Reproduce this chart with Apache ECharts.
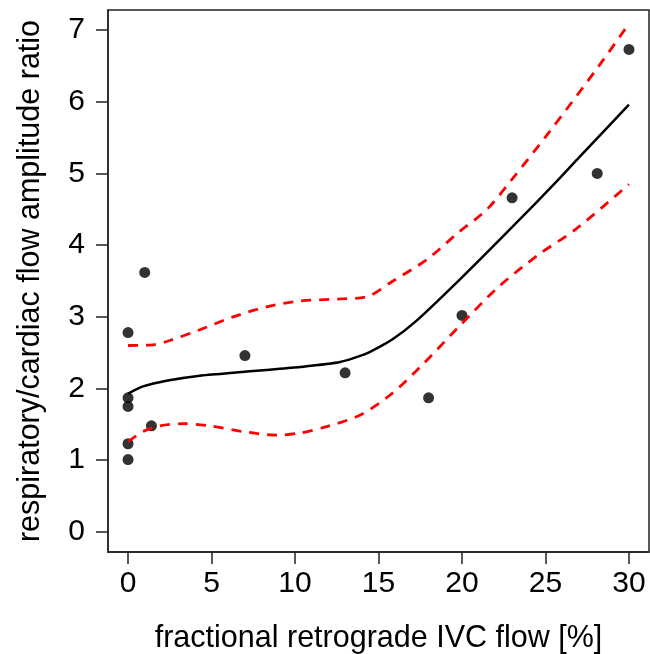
<!DOCTYPE html>
<html>
<head>
<meta charset="utf-8">
<script src="https://cdn.jsdelivr.net/npm/echarts@6/dist/echarts.min.js"></script>
<style>
  html, body { margin: 0; padding: 0; background: #fff; }
  #main { width: 650px; height: 654px; }
</style>
</head>
<body>
<div id="main"></div>
<script>
// measured points
var ptX = [0, 1.0, 0, 0, 1.4, 0, 0, 7.0, 13.0, 18.0, 20.0, 23.0, 28.1, 30.0];
var ptY = [2.78, 3.62, 1.87, 1.75, 1.48, 1.23, 1.01, 2.46, 2.22, 1.87, 3.02, 4.66, 5.0, 6.73];

// fitted curve
var fitX = [0, 0.9, 2.3, 4.3, 6.3, 8.3, 10.3, 12.7, 14.3, 15.8, 17.3, 20.0, 23.0, 25.8, 27.0, 30.0];
var fitY = [1.93, 2.03, 2.11, 2.18, 2.22, 2.26, 2.30, 2.37, 2.49, 2.68, 2.95, 3.55, 4.25, 4.92, 5.22, 5.96];

// upper band
var upX = [0, 1.5, 2.5, 4.3, 6.3, 8.3, 10.3, 12.7, 14.3, 15.8, 17.9, 19.8, 21.5, 23.0, 25.2, 28.2, 30.0];
var upY = [2.60, 2.61, 2.67, 2.82, 3.00, 3.14, 3.22, 3.25, 3.28, 3.49, 3.80, 4.18, 4.50, 4.92, 5.57, 6.50, 7.09];

// lower band
var loX = [0, 0.9, 1.9, 3.3, 4.9, 6.9, 8.9, 10.3, 11.9, 13.9, 15.7, 17.5, 19.8, 22.2, 24.6, 26.8, 30.0];
var loY = [1.26, 1.40, 1.48, 1.51, 1.48, 1.40, 1.35, 1.38, 1.47, 1.63, 1.91, 2.30, 2.86, 3.42, 3.87, 4.22, 4.85];

var xTicks = [0, 5, 10, 15, 20, 25, 30];
var yTicks = [0, 1, 2, 3, 4, 5, 6, 7];

function pairs(xs, ys) {
    var out = [];
    for (var i = 0; i < xs.length; i++) out.push([xs[i], ys[i]]);
    return out;
}

var myChart = echarts.init(document.getElementById('main'));
var font = '"Liberation Sans", Arial, sans-serif';
var ink = '#222';

var option = {
    animation: false,
    grid: {
        left: 108, right: 1, top: 10, bottom: 102,
        outerBoundsMode: 'none',
        show: true, borderColor: ink, borderWidth: 1.5
    },
    xAxis: {
        type: 'value',
        min: -1.2, max: 31.2,
        name: 'fractional retrograde IVC flow [%]',
        nameLocation: 'middle',
        nameGap: 71,
        nameTextStyle: { fontSize: 30.5, color: '#000', fontFamily: font },
        axisLine: { show: true, onZero: false, lineStyle: { color: ink, width: 1.5 } },
        axisTick: { show: true, length: 12, inside: false, customValues: xTicks, lineStyle: { color: ink, width: 1.5 } },
        axisLabel: { customValues: xTicks, margin: 17, fontSize: 30, color: '#000', fontFamily: font },
        splitLine: { show: false }
    },
    yAxis: {
        type: 'value',
        min: -0.28, max: 7.28,
        name: 'respiratory/cardiac flow amplitude ratio',
        nameLocation: 'middle',
        nameGap: 62,
        nameTextStyle: { fontSize: 30.5, color: '#000', fontFamily: font },
        axisLine: { show: true, onZero: false, lineStyle: { color: ink, width: 1.5 } },
        axisTick: { show: true, length: 12, inside: false, customValues: yTicks, lineStyle: { color: ink, width: 1.5 } },
        axisLabel: { customValues: yTicks, margin: 23, fontSize: 30, color: '#000', fontFamily: font },
        splitLine: { show: false }
    },
    series: [
        {
            type: 'line', data: pairs(upX, upY), showSymbol: false, smooth: 0.3,
            lineStyle: { color: '#ff0000', width: 2.8, type: [10, 8] }
        },
        {
            type: 'line', data: pairs(loX, loY), showSymbol: false, smooth: 0.3,
            lineStyle: { color: '#ff0000', width: 2.8, type: [10, 8] }
        },
        {
            type: 'line', data: pairs(fitX, fitY), showSymbol: false, smooth: 0.2,
            lineStyle: { color: '#000', width: 2.5 }
        },
        {
            type: 'scatter', data: pairs(ptX, ptY), symbolSize: 11,
            itemStyle: { color: '#000' }
        }
    ]
};
myChart.setOption(option);
</script>
</body>
</html>
